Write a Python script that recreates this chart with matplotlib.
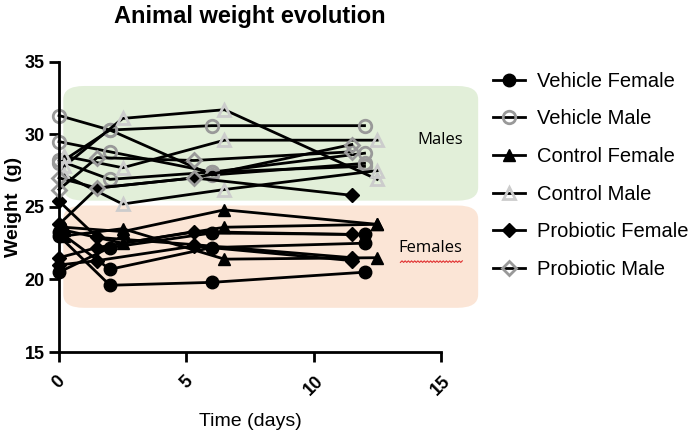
import numpy as np
import matplotlib.pyplot as plt
from matplotlib.patches import FancyBboxPatch
from matplotlib.lines import Line2D

plt.rcParams['font.family'] = ['Liberation Sans', 'DejaVu Sans']

# time points (days) per group
days_vehicle = [0, 2, 6, 12]
days_control = [0.2, 2.5, 6.5, 12.5]
days_probiotic = [0, 1.5, 5.3, 11.5]

# weights (g), one row per animal
vehicle_female = [[23.0, 19.6, 19.8, 20.5],
                  [20.5, 22.2, 23.2, 23.1],
                  [23.3, 20.7, 22.2, 22.5]]
vehicle_male = [[31.3, 30.3, 30.6, 30.6],
                [29.5, 28.8, 27.4, 28.7],
                [28.2, 26.9, 27.4, 27.8],
                [28.0, 30.3, 27.2, 28.0]]
control_female = [[23.6, 23.3, 24.8, 23.8],
                  [23.0, 23.5, 21.4, 21.5],
                  [23.4, 22.5, 23.6, 23.8]]
control_male = [[27.8, 31.1, 31.7, 26.9],
                [27.2, 25.2, 26.2, 27.5],
                [28.5, 27.7, 29.6, 29.6]]
probiotic_female = [[25.4, 22.9, 22.4, 21.5],
                    [21.5, 22.2, 23.3, 23.1],
                    [21.0, 21.3, 22.3, 21.3],
                    [23.8, 26.3, 27.0, 25.8]]
probiotic_male = [[26.2, 28.4, 28.2, 28.8],
                  [27.0, 26.3, 27.0, 29.3]]

groups = [
    ("Vehicle Female", days_vehicle, vehicle_female, 'o', 'black', 'black'),
    ("Vehicle Male", days_vehicle, vehicle_male, 'o', 'none', '#999999'),
    ("Control Female", days_control, control_female, '^', 'black', 'black'),
    ("Control Male", days_control, control_male, '^', 'none', '#cccccc'),
    ("Probiotic Female", days_probiotic, probiotic_female, 'D', 'black', 'black'),
    ("Probiotic Male", days_probiotic, probiotic_male, 'D', 'none', '#999999'),
]

fig = plt.figure(figsize=(6.88, 4.41), dpi=100)
ax = fig.add_axes([0.0858, 0.2018, 0.555, 0.658])
ax.set_facecolor('none')

# shaded boxes behind the chart
green = FancyBboxPatch((0.092, 0.545), 0.603, 0.26, boxstyle="round,pad=0,rounding_size=0.03",
                       transform=fig.transFigure, facecolor='#e2efd9', edgecolor='none', zorder=-1)
pink = FancyBboxPatch((0.092, 0.302), 0.603, 0.232, boxstyle="round,pad=0,rounding_size=0.03",
                      transform=fig.transFigure, facecolor='#fbe5d6', edgecolor='none', zorder=-1)
fig.patches.extend([green, pink])

for name, days, rows, mk, fc, ec in groups:
    ms = 7 if mk == 'D' else 9
    for i, row in enumerate(rows):
        ax.plot(days, row, color='black', lw=2, marker=mk, ms=ms,
                mfc=fc, mec=ec, mew=2 if fc == 'none' else 1,
                label=name if i == 0 else None, clip_on=False)

ax.set_xlim(0, 15)
ax.set_ylim(15, 35)
ax.set_xticks([0, 5, 10, 15])
ax.set_yticks([15, 20, 25, 30, 35])
for s in ['top', 'right']:
    ax.spines[s].set_visible(False)
for s in ['left', 'bottom']:
    ax.spines[s].set_linewidth(2)
ax.tick_params(width=2, length=7, labelsize=13)
ax.tick_params(axis='x', pad=8)
for lab in ax.get_xticklabels():
    lab.set_rotation(45)
    lab.set_fontweight('bold')
for lab in ax.get_yticklabels():
    lab.set_fontweight('bold')

ax.set_xlabel("Time (days)", fontsize=14, labelpad=10)
ax.set_ylabel("Weight  (g)", fontsize=14, fontweight='bold', labelpad=2)
ax.set_title("Animal weight evolution", fontsize=17, fontweight='bold', pad=28)

fig.text(0.64, 0.683, "Males", fontsize=12, family=['Open Sans', 'DejaVu Sans'], ha='center', va='center')
fig.text(0.626, 0.438, "Females", fontsize=12, family=['Open Sans', 'DejaVu Sans'], ha='center', va='center')
# spell-check squiggle under "Females"
zx = np.linspace(0.582, 0.672, 40)
zy = 0.405 + 0.0035 * (np.arange(40) % 2)
fig.add_artist(Line2D(zx, zy, color='#e03030', lw=0.8, transform=fig.transFigure))

fig.legend(loc='upper left', bbox_to_anchor=(0.705, 0.856), frameon=False, fontsize=14.5,
           labelspacing=0.93, handlelength=1.6, handletextpad=0.6, borderaxespad=0)

fig.savefig("out.png", dpi=100)
